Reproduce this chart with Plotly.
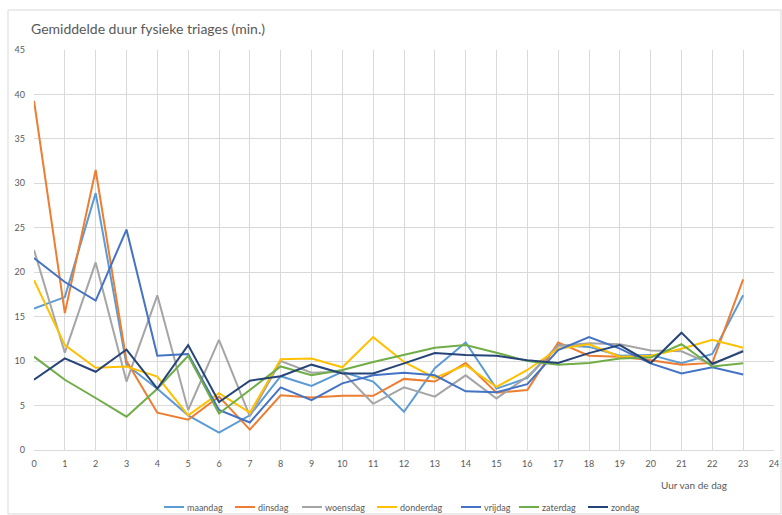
import plotly.graph_objects as go

hours = list(range(24))
x_ticks = list(range(25))
y_ticks = [0, 5, 10, 15, 20, 25, 30, 35, 40, 45]

days = ["maandag", "dinsdag", "woensdag", "donderdag", "vrijdag", "zaterdag", "zondag"]
colors = ["#5B9BD5", "#ED7D31", "#A5A5A5", "#FFC000", "#4472C4", "#70AD47", "#264478"]

maandag = [15.9, 17.2, 28.9, 9.6, 6.9, 3.9, 1.95, 3.9, 8.3, 7.2, 8.8, 7.7, 4.3, 9.2, 12.1, 6.9, 8.1, 11.8, 11.6, 10.6, 10.7, 9.75, 10.8, 17.4]
dinsdag = [39.3, 15.4, 31.5, 10.0, 4.2, 3.4, 6.0, 2.3, 6.15, 5.9, 6.1, 6.1, 8.0, 7.7, 9.8, 6.45, 6.75, 12.1, 10.6, 10.5, 10.1, 9.6, 9.8, 19.2]
woensdag = [22.5, 10.95, 21.1, 7.7, 17.4, 4.5, 12.4, 3.8, 10.0, 8.7, 8.8, 5.2, 7.05, 6.0, 8.4, 5.8, 8.25, 11.7, 12.0, 11.9, 11.2, 11.1, 9.6, 11.2]
donderdag = [19.1, 11.8, 9.25, 9.4, 8.25, 3.9, 6.4, 4.2, 10.2, 10.3, 9.3, 12.7, 9.9, 8.1, 9.55, 7.1, 9.0, 11.4, 11.9, 10.5, 10.6, 11.4, 12.4, 11.5]
vrijdag = [21.6, 18.9, 16.8, 24.8, 10.6, 10.8, 4.5, 3.1, 7.05, 5.6, 7.5, 8.4, 8.7, 8.4, 6.6, 6.5, 7.4, 11.25, 12.7, 11.4, 9.75, 8.6, 9.3, 8.5]
zaterdag = [10.5, 7.9, 5.85, 3.75, 6.9, 10.6, 4.1, 6.7, 9.4, 8.4, 9.0, 9.9, 10.7, 11.5, 11.8, 10.95, 10.0, 9.6, 9.8, 10.3, 10.4, 11.9, 9.4, 9.75]
zondag = [7.9, 10.3, 8.8, 11.3, 6.9, 11.8, 5.4, 7.8, 8.3, 9.6, 8.6, 8.6, 9.75, 10.9, 10.7, 10.6, 10.1, 9.8, 10.9, 11.8, 9.8, 13.2, 9.7, 11.1]

series = [maandag, dinsdag, woensdag, donderdag, vrijdag, zaterdag, zondag]

FONT = "Lato"
TXT = "#595959"

W, H = 782, 515
ML, MR, MT, MB = 34, 8, 50, 65
PW, PH = W - ML - MR, H - MT - MB


def px(x):
    return (x - ML) / PW


def py(y):
    return (H - MB - y) / PH


fig = go.Figure()
for name, vals, col in zip(days, series, colors):
    fig.add_trace(go.Scatter(x=hours, y=vals, mode="lines", name=name,
                             line=dict(color=col, width=2), showlegend=False))

fig.update_layout(
    width=W, height=H, autosize=False,
    margin=dict(l=ML, r=MR, t=MT, b=MB, autoexpand=False),
    plot_bgcolor="white", paper_bgcolor="white",
    font=dict(family=FONT, size=9, color=TXT),
    title=dict(text="Gemiddelde duur fysieke triages (min.)",
               xref="container", yref="container",
               x=31/W, xanchor="left", y=1-29/H, yanchor="middle",
               font=dict(family=FONT, size=14, color=TXT)),
    showlegend=False,
)
fig.update_xaxes(range=[0, 24], tickvals=x_ticks, ticktext=[str(v) for v in x_ticks],
                 showgrid=True, gridcolor="#D9D9D9", gridwidth=1,
                 zeroline=False, showline=True, linecolor="#D9D9D9",
                 ticks="", ticklabelstandoff=5, tickfont=dict(size=9, color=TXT))
fig.update_yaxes(range=[0, 45], tickvals=y_ticks, ticktext=[str(v) for v in y_ticks],
                 showgrid=True, gridcolor="#D9D9D9", gridwidth=1,
                 zeroline=False, showline=False,
                 ticks="", ticklabelstandoff=8, tickfont=dict(size=9, color=TXT))

fig.add_annotation(text="Uur van de dag", xref="paper", yref="paper",
                   x=px(694), y=py(485), showarrow=False,
                   xanchor="center", yanchor="middle",
                   font=dict(family=FONT, size=10, color=TXT))

# custom legend (Excel-style short line samples)
legend_x = [164, 235, 302, 377, 461, 519, 588]
legend_y = 507
for name, col, lx in zip(days, colors, legend_x):
    fig.add_shape(type="line", xref="paper", yref="paper",
                  x0=px(lx), x1=px(lx + 20), y0=py(legend_y), y1=py(legend_y),
                  line=dict(color=col, width=2))
    fig.add_annotation(text=name, xref="paper", yref="paper",
                       x=px(lx + 21), y=py(legend_y), showarrow=False,
                       xanchor="left", yanchor="middle",
                       font=dict(family=FONT, size=9, color=TXT))

fig.add_shape(type="rect", xref="paper", yref="paper",
              x0=px(8), x1=px(781), y0=py(514), y1=py(10),
              line=dict(color="#D9D9D9", width=1), fillcolor="rgba(0,0,0,0)", layer="below")

fig.write_html("out.html", config={"displayModeBar": False},
               post_script="document.body.style.margin='0px';")
